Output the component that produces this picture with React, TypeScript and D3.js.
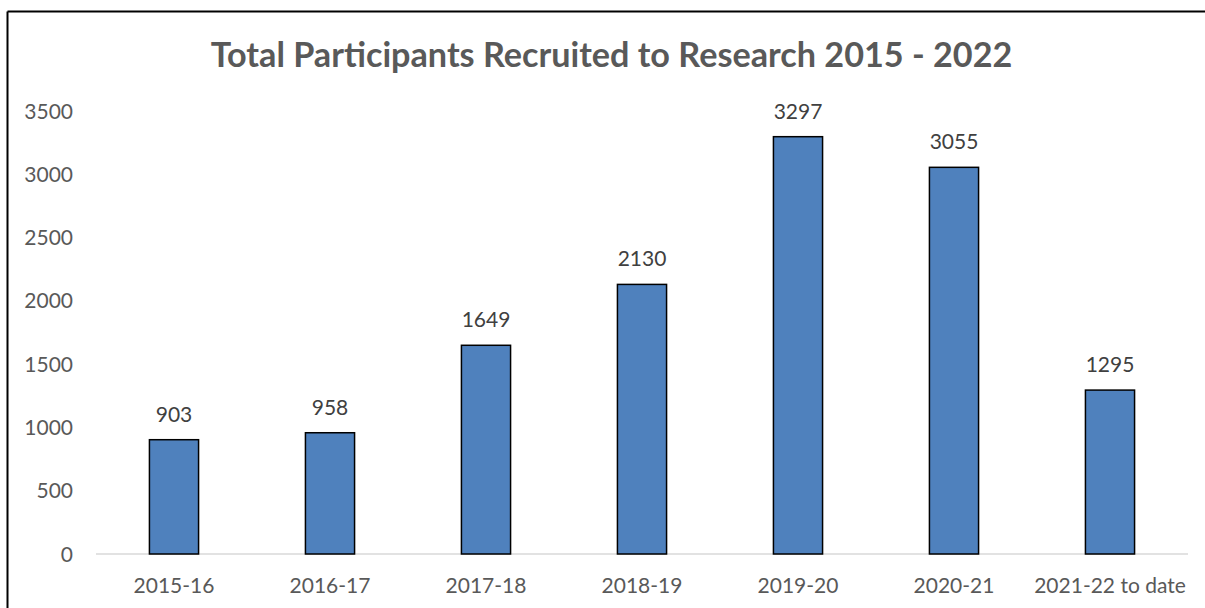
import React from "react";
import * as d3 from "d3";

const categories = ["2015-16", "2016-17", "2017-18", "2018-19", "2019-20", "2020-21", "2021-22 to date"];
const values = [903, 958, 1649, 2130, 3297, 3055, 1295];
const yTicks = [0, 500, 1000, 1500, 2000, 2500, 3000, 3500];
const title = "Total Participants Recruited to Research 2015 - 2022";

const W = 1205;
const H = 608;
const FONT = "Lato, 'Open Sans', sans-serif";

export default function App() {
  const x = d3.scaleBand<string>().domain(categories).range([96, 1188]).paddingInner(0.685).paddingOuter(0.3425);
  const y = d3.scaleLinear().domain([0, 3500]).range([554, 111]);
  const bw = x.bandwidth();
  return (
    <svg width={W} height={H} style={{ position: "absolute", left: 0, top: 0, background: "#fff" }}>
      <rect x={0} y={0} width={W} height={H} fill="#fff" />
      <line x1={7.5} y1={11.5} x2={W} y2={11.5} stroke="#000" strokeWidth={2} />
      <line x1={7.5} y1={11.5} x2={7.5} y2={H} stroke="#000" strokeWidth={2} />
      <text x={611.5} y={67} textAnchor="middle" fontFamily={FONT} fontWeight={700} fontSize={34.2} fill="#595959">
        {title}
      </text>
      {yTicks.map((t) => (
        <text key={t} x={73} y={y(t)} dy="0.36em" textAnchor="end" fontFamily={FONT} fontSize={21} fill="#595959">
          {t}
        </text>
      ))}
      <line x1={96} x2={1188} y1={y(0)} y2={y(0)} stroke="#d9d9d9" strokeWidth={1.5} />
      {categories.map((c, i) => (
        <g key={c}>
          <rect
            x={x(c)!}
            y={y(values[i])}
            width={bw}
            height={y(0) - y(values[i])}
            fill="#4F81BD"
            stroke="#000"
            strokeWidth={1.5}
          />
          <text x={x(c)! + bw / 2} y={y(values[i]) - 18} textAnchor="middle" fontFamily={FONT} fontSize={21} fill="#404040">
            {values[i]}
          </text>
          <text x={x(c)! + bw / 2} y={593} textAnchor="middle" fontFamily={FONT} fontSize={21} fill="#595959">
            {c}
          </text>
        </g>
      ))}
    </svg>
  );
}
